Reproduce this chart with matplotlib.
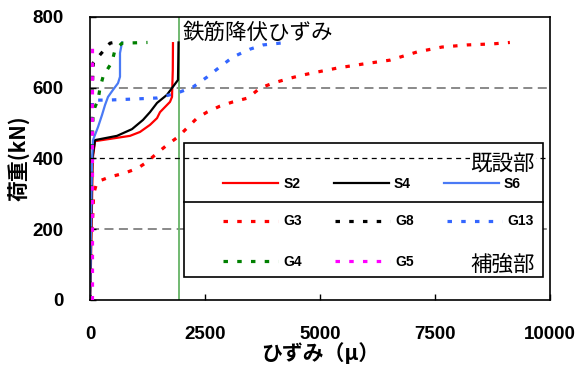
import matplotlib
matplotlib.use('Agg')
import matplotlib.pyplot as plt
from matplotlib.patches import Rectangle

plt.rcParams['font.family'] = ['Noto Sans CJK JP', 'DejaVu Sans']

# 既設部 鉄筋ひずみ (μ) と荷重 (kN)
s2_strain = [0, 20, 40, 60, 109, 870, 1087, 1304, 1457, 1522, 1739, 1783, 1800, 1804]
s2_load = [0, 100, 250, 400, 449, 464, 475, 495, 514, 531, 560, 574, 650, 726]
s4_strain = [0, 15, 30, 50, 109, 587, 913, 1152, 1304, 1457, 1674, 1913, 1920, 1925]
s4_load = [0, 100, 250, 400, 452, 464, 483, 509, 531, 557, 580, 622, 680, 728]
s6_strain = [0, 10, 25, 45, 65, 174, 261, 326, 391, 500, 609, 652, 652, 696]
s6_load = [0, 100, 250, 400, 452, 489, 523, 551, 574, 594, 613, 631, 698, 728]

# 補強部 鉄筋ひずみ
g3_strain = [0, 30, 80, 152, 435, 761, 1043, 1239, 1457, 1674, 1913, 2109, 2326, 2543,
             2826, 3109, 3435, 3696, 3978, 4348, 4630, 4848, 5391, 5935, 6522, 7109,
             7652, 8196, 8761, 9130]
g3_load = [0, 150, 300, 334, 348, 359, 373, 390, 415, 438, 461, 486, 514, 531,
           548, 560, 571, 599, 613, 627, 636, 642, 656, 667, 678, 701,
           715, 721, 724, 728]
g8_strain = [0, 20, 30, 40, 45, 50, 70, 217, 435, 520]
g8_load = [0, 230, 300, 360, 450, 600, 670, 693, 726, 728]
g13_strain = [0, 20, 35, 43, 370, 935, 1457, 1739, 1957, 2239, 2543, 2826, 3109, 3478,
              3761, 4130, 4300]
g13_load = [0, 250, 450, 565, 565, 568, 571, 580, 588, 602, 630, 659, 687, 709,
            721, 726, 728]
g4_strain = [0, 20, 40, 65, 109, 174, 217, 283, 370, 478, 543, 696, 1250]
g4_load = [0, 200, 400, 517, 546, 565, 599, 631, 650, 673, 707, 726, 728]
g5_strain = [40, 40, 40, 40, 40, 40]
g5_load = [0, 200, 400, 550, 650, 725]

yield_strain = 1930

fig = plt.figure(figsize=(5.77, 3.67), dpi=100)
ax = fig.add_axes([0.156, 0.1826, 0.797, 0.7711])

dot = (1.4, 2.9)
ax.axhline(600, color='#808080', lw=1.3, dashes=(5, 3), zorder=1)
ax.axhline(200, color='#808080', lw=1.3, dashes=(5, 3), zorder=1)
ax.axvline(yield_strain, color='#66b366', lw=1.3, zorder=1.5)

l_s2, = ax.plot(s2_strain, s2_load, color='#ff0000', lw=1.6, label='S2')
l_s4, = ax.plot(s4_strain, s4_load, color='black', lw=1.6, label='S4')
l_s6, = ax.plot(s6_strain, s6_load, color='#4a7af5', lw=1.6, label='S6')
l_g3, = ax.plot(g3_strain, g3_load, color='#ff0000', lw=2.3, dashes=dot, label='G3')
l_g8, = ax.plot(g8_strain, g8_load, color='black', lw=2.3, dashes=dot, label='G8')
l_g13, = ax.plot(g13_strain, g13_load, color='#3366ff', lw=2.3, dashes=dot, label='G13')
l_g4, = ax.plot(g4_strain, g4_load, color='#008000', lw=2.3, dashes=dot, label='G4')
l_g5, = ax.plot(g5_strain, g5_load, color='#ff00ff', lw=2.3, dashes=dot, label='G5',
                zorder=2.6)

ax.set_xlim(0, 10000)
ax.set_ylim(0, 800)
ax.set_xticks([0, 2500, 5000, 7500, 10000])
ax.set_yticks([0, 200, 400, 600, 800])
ax.tick_params(direction='in', length=4, width=1, pad=19)
for lab in ax.get_xticklabels() + ax.get_yticklabels():
    lab.set_family('Liberation Sans')
    lab.set_fontweight('bold')
    lab.set_fontsize(13.5)
for sp in ax.spines.values():
    sp.set_linewidth(1.2)

ax.set_xlabel('ひずみ（μ）', fontsize=15, fontweight='bold', labelpad=-1)
ax.set_ylabel('荷重(kN)', fontsize=15, fontweight='bold', labelpad=1)

ax.text(2020, 755, '鉄筋降伏ひずみ', fontsize=15.5, va='center', ha='left')

# 凡例の枠
box = Rectangle((0.204, 0.081), 0.781, 0.474, transform=ax.transAxes,
                facecolor='white', edgecolor='black', lw=1.2, zorder=3)
ax.add_patch(box)
ax.plot([0.204, 0.985], [0.346, 0.346], transform=ax.transAxes,
        color='black', lw=1.2, zorder=3.1)
ax.axhline(400, color='black', lw=0.9, dashes=(4, 3.5), zorder=3.5)

ax.text(0.968, 0.48, '既設部', transform=ax.transAxes, fontsize=15.5,
        ha='right', va='center', zorder=4,
        bbox=dict(facecolor='white', edgecolor='none', pad=0.5))
ax.text(0.968, 0.125, '補強部', transform=ax.transAxes, fontsize=15.5,
        ha='right', va='center', zorder=4)

leg_kw = dict(ncol=3, frameon=False, handlelength=3.96, handletextpad=0.36,
              columnspacing=2.4, prop={'family': 'Liberation Sans', 'weight': 'bold', 'size': 10})
leg1 = ax.legend(handles=[l_s2, l_s4, l_s6], loc='center left',
                 bbox_to_anchor=(0.278, 0.41), borderaxespad=0, **leg_kw)
leg1.set_zorder(5)
ax.add_artist(leg1)
leg2 = ax.legend(handles=[l_g3, l_g4, l_g8, l_g5, l_g13], loc='center left',
                 bbox_to_anchor=(0.278, 0.206), borderaxespad=0, labelspacing=1.9, **leg_kw)
leg2.set_zorder(5)

fig.savefig('out.png', dpi=100)
